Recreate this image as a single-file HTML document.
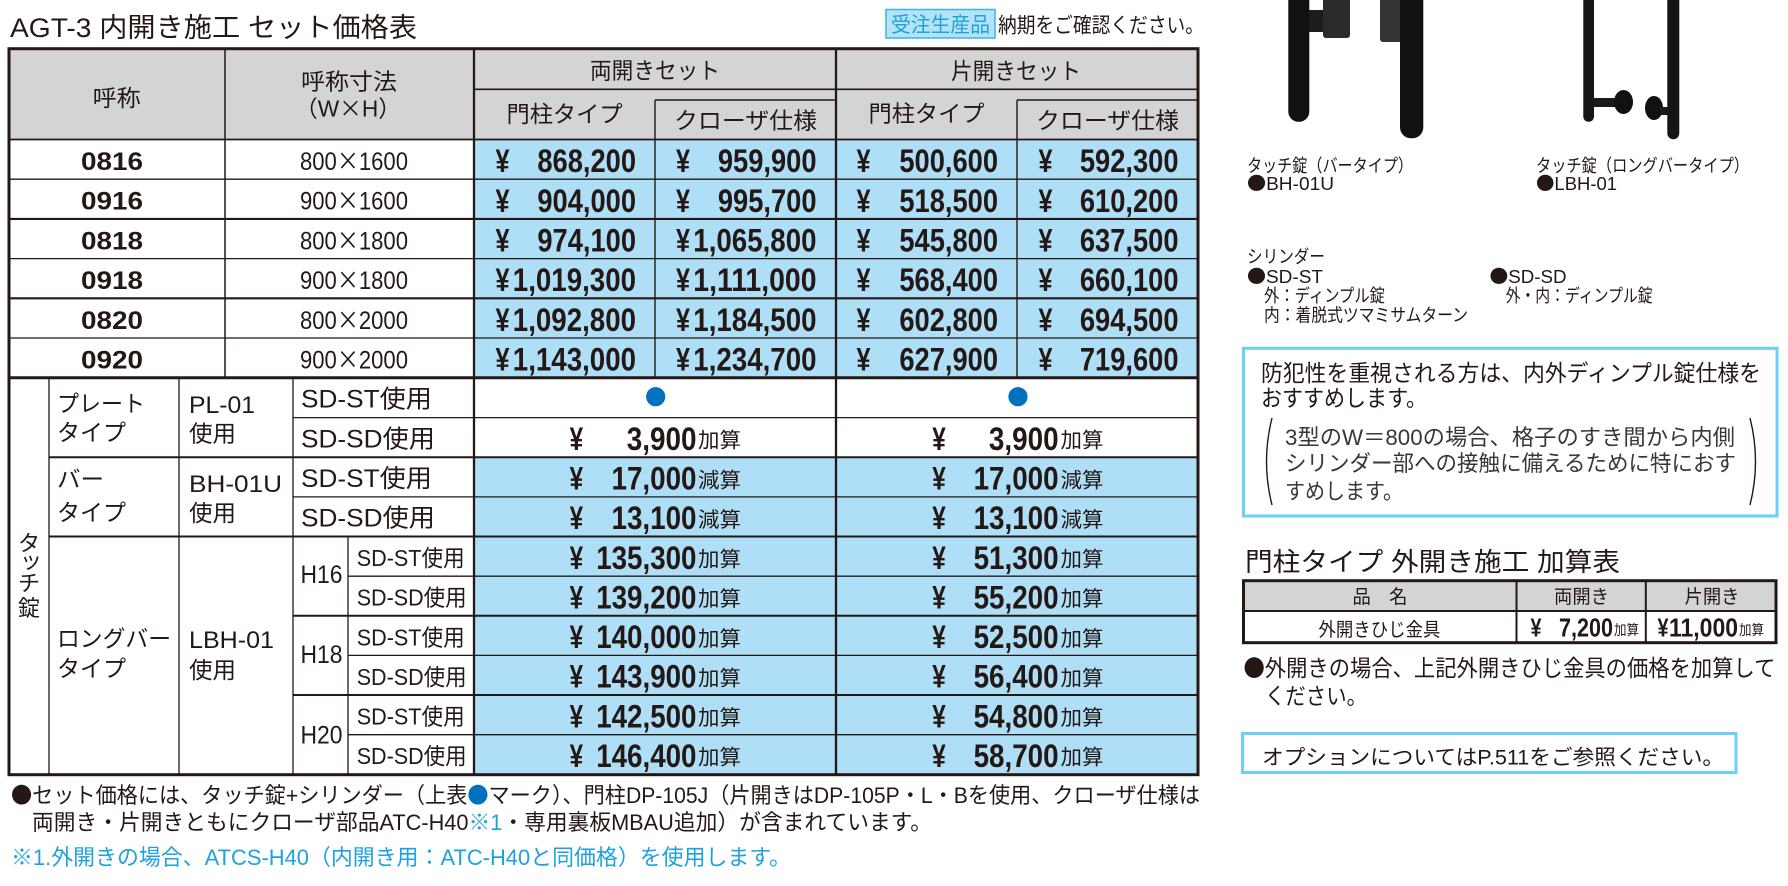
<!DOCTYPE html>
<html><head><meta charset="utf-8">
<style>
html,body{margin:0;padding:0;background:#fff;}
svg{display:block;}
text{font-family:"Liberation Sans","Noto Sans CJK JP",sans-serif;fill:#231815;}
.k{font-family:"Noto Sans CJK JP",sans-serif;}
.b{font-weight:bold;}
.c{fill:#1ea2dd;}
.bl{fill:#0071bc;}
.g{fill:#3a3634;}
line{stroke:#231815;}
</style></head><body>
<svg width="1788" height="886" viewBox="0 0 1788 886" xmlns="http://www.w3.org/2000/svg">
<rect x="0" y="0" width="1788" height="886" fill="#fff"/>

<!-- Title -->
<text x="10" y="37" font-size="27" textLength="407" lengthAdjust="spacingAndGlyphs">AGT-3 内開き施工 セット価格表</text>
<rect x="886" y="9.5" width="109" height="28.5" fill="#b4e3f8" stroke="#3cb4e6" stroke-width="1.5"/>
<text class="c" x="891" y="32" font-size="21" textLength="99" lengthAdjust="spacingAndGlyphs">受注生産品</text>
<text x="998" y="32.5" font-size="21" textLength="206" lengthAdjust="spacingAndGlyphs">納期をご確認ください。</text>

<!-- fills -->
<rect x="9" y="48.7" width="1189" height="90.8" fill="#d4d4d5"/>
<rect x="474" y="139.5" width="724" height="238.2" fill="#aedff7"/>
<rect x="474" y="457.3" width="724" height="317" fill="#aedff7"/>

<!-- header lines -->
<line x1="474" y1="89.3" x2="1198" y2="89.3" stroke-width="1.7"/>
<line x1="655" y1="100" x2="836" y2="100" stroke-width="1.5"/>
<line x1="1017" y1="100" x2="1198" y2="100" stroke-width="1.5"/>
<line x1="655" y1="100" x2="655" y2="377.7" stroke-width="1.4"/>
<line x1="1017" y1="100" x2="1017" y2="377.7" stroke-width="1.4"/>
<line x1="225" y1="48.7" x2="225" y2="377.7" stroke-width="1.5"/>
<line x1="474" y1="48.7" x2="474" y2="774.7" stroke-width="2.3"/>
<line x1="836" y1="48.7" x2="836" y2="774.7" stroke-width="2.3"/>
<line x1="9" y1="139.5" x2="1198" y2="139.5" stroke-width="1.8"/>

<!-- upper row lines -->
<line x1="9" y1="179.2" x2="1198" y2="179.2" stroke-width="1.3"/>
<line x1="9" y1="218.9" x2="1198" y2="218.9" stroke-width="2.1"/>
<line x1="9" y1="258.6" x2="1198" y2="258.6" stroke-width="1.3"/>
<line x1="9" y1="298.3" x2="1198" y2="298.3" stroke-width="2.1"/>
<line x1="9" y1="338" x2="1198" y2="338" stroke-width="1.3"/>
<line x1="9" y1="377.7" x2="1198" y2="377.7" stroke-width="3"/>

<!-- lower vertical lines -->
<line x1="49" y1="377.7" x2="49" y2="774.7" stroke-width="1.3"/>
<line x1="179" y1="377.7" x2="179" y2="774.7" stroke-width="1.3"/>
<line x1="293" y1="377.7" x2="293" y2="774.7" stroke-width="1.3"/>
<line x1="348" y1="536.5" x2="348" y2="774.7" stroke-width="1.3"/>
<!-- lower horizontal lines -->
<line x1="293" y1="417.6" x2="1198" y2="417.6" stroke-width="1.3"/>
<line x1="49" y1="457.3" x2="1198" y2="457.3" stroke-width="2"/>
<line x1="293" y1="496.9" x2="1198" y2="496.9" stroke-width="1.3"/>
<line x1="49" y1="536.5" x2="1198" y2="536.5" stroke-width="2"/>
<line x1="348" y1="576.2" x2="1198" y2="576.2" stroke-width="1.3"/>
<line x1="293" y1="615.8" x2="1198" y2="615.8" stroke-width="2"/>
<line x1="348" y1="655.4" x2="1198" y2="655.4" stroke-width="1.3"/>
<line x1="293" y1="695" x2="1198" y2="695" stroke-width="2"/>
<line x1="348" y1="734.7" x2="1198" y2="734.7" stroke-width="1.3"/>

<!-- outer border -->
<rect x="9" y="48.7" width="1189" height="726" fill="none" stroke="#231815" stroke-width="3"/>

<!-- header texts -->
<text x="92.7" y="106" font-size="23" textLength="48" lengthAdjust="spacingAndGlyphs">呼称</text>
<text x="301" y="89.5" font-size="23" textLength="96" lengthAdjust="spacingAndGlyphs">呼称寸法</text>
<text x="295" y="116.5" font-size="23" textLength="106" lengthAdjust="spacingAndGlyphs">（W<tspan class="k">×</tspan>H）</text>
<text x="590" y="78.5" font-size="23" textLength="130" lengthAdjust="spacingAndGlyphs">両開きセット</text>
<text x="951" y="79" font-size="23" textLength="130" lengthAdjust="spacingAndGlyphs">片開きセット</text>
<text x="506.5" y="122" font-size="23" textLength="116" lengthAdjust="spacingAndGlyphs">門柱タイプ</text>
<text x="674" y="128.5" font-size="23" textLength="143" lengthAdjust="spacingAndGlyphs">クローザ仕様</text>
<text x="868.5" y="121.5" font-size="23" textLength="116" lengthAdjust="spacingAndGlyphs">門柱タイプ</text>
<text x="1036" y="128.5" font-size="23" textLength="143" lengthAdjust="spacingAndGlyphs">クローザ仕様</text>

<!-- upper data rows -->
<g font-size="25">
<text class="b" x="81" y="170" textLength="62" lengthAdjust="spacingAndGlyphs">0816</text>
<text class="b" x="81" y="209.7" textLength="62" lengthAdjust="spacingAndGlyphs">0916</text>
<text class="b" x="81" y="249.4" textLength="62" lengthAdjust="spacingAndGlyphs">0818</text>
<text class="b" x="81" y="289.1" textLength="62" lengthAdjust="spacingAndGlyphs">0918</text>
<text class="b" x="81" y="328.8" textLength="62" lengthAdjust="spacingAndGlyphs">0820</text>
<text class="b" x="81" y="368.5" textLength="62" lengthAdjust="spacingAndGlyphs">0920</text>
<text x="300" y="170" textLength="108" lengthAdjust="spacingAndGlyphs">800<tspan class="k">×</tspan>1600</text>
<text x="300" y="209.7" textLength="108" lengthAdjust="spacingAndGlyphs">900<tspan class="k">×</tspan>1600</text>
<text x="300" y="249.4" textLength="108" lengthAdjust="spacingAndGlyphs">800<tspan class="k">×</tspan>1800</text>
<text x="300" y="289.1" textLength="108" lengthAdjust="spacingAndGlyphs">900<tspan class="k">×</tspan>1800</text>
<text x="300" y="328.8" textLength="108" lengthAdjust="spacingAndGlyphs">800<tspan class="k">×</tspan>2000</text>
<text x="300" y="368.5" textLength="108" lengthAdjust="spacingAndGlyphs">900<tspan class="k">×</tspan>2000</text>
</g>

<g class="b" font-size="32">
<!-- yen signs upper -->
<text class="b" x="495.5" y="172.1" textLength="14" lengthAdjust="spacingAndGlyphs">¥</text>
<text class="b" x="676" y="172.1" textLength="14" lengthAdjust="spacingAndGlyphs">¥</text>
<text class="b" x="856.5" y="172.1" textLength="14" lengthAdjust="spacingAndGlyphs">¥</text>
<text class="b" x="1038.5" y="172.1" textLength="14" lengthAdjust="spacingAndGlyphs">¥</text>
<text class="b" x="495.5" y="211.8" textLength="14" lengthAdjust="spacingAndGlyphs">¥</text>
<text class="b" x="676" y="211.8" textLength="14" lengthAdjust="spacingAndGlyphs">¥</text>
<text class="b" x="856.5" y="211.8" textLength="14" lengthAdjust="spacingAndGlyphs">¥</text>
<text class="b" x="1038.5" y="211.8" textLength="14" lengthAdjust="spacingAndGlyphs">¥</text>
<text class="b" x="495.5" y="251.5" textLength="14" lengthAdjust="spacingAndGlyphs">¥</text>
<text class="b" x="676" y="251.5" textLength="14" lengthAdjust="spacingAndGlyphs">¥</text>
<text class="b" x="856.5" y="251.5" textLength="14" lengthAdjust="spacingAndGlyphs">¥</text>
<text class="b" x="1038.5" y="251.5" textLength="14" lengthAdjust="spacingAndGlyphs">¥</text>
<text class="b" x="495.5" y="291.2" textLength="14" lengthAdjust="spacingAndGlyphs">¥</text>
<text class="b" x="676" y="291.2" textLength="14" lengthAdjust="spacingAndGlyphs">¥</text>
<text class="b" x="856.5" y="291.2" textLength="14" lengthAdjust="spacingAndGlyphs">¥</text>
<text class="b" x="1038.5" y="291.2" textLength="14" lengthAdjust="spacingAndGlyphs">¥</text>
<text class="b" x="495.5" y="330.9" textLength="14" lengthAdjust="spacingAndGlyphs">¥</text>
<text class="b" x="676" y="330.9" textLength="14" lengthAdjust="spacingAndGlyphs">¥</text>
<text class="b" x="856.5" y="330.9" textLength="14" lengthAdjust="spacingAndGlyphs">¥</text>
<text class="b" x="1038.5" y="330.9" textLength="14" lengthAdjust="spacingAndGlyphs">¥</text>
<text class="b" x="495.5" y="370.6" textLength="14" lengthAdjust="spacingAndGlyphs">¥</text>
<text class="b" x="676" y="370.6" textLength="14" lengthAdjust="spacingAndGlyphs">¥</text>
<text class="b" x="856.5" y="370.6" textLength="14" lengthAdjust="spacingAndGlyphs">¥</text>
<text class="b" x="1038.5" y="370.6" textLength="14" lengthAdjust="spacingAndGlyphs">¥</text>

<!-- numbers upper -->
<text class="b" x="537.4" y="172.1" textLength="98.6" lengthAdjust="spacingAndGlyphs">868,200</text>
<text class="b" x="717.9" y="172.1" textLength="98.6" lengthAdjust="spacingAndGlyphs">959,900</text>
<text class="b" x="899.4" y="172.1" textLength="98.6" lengthAdjust="spacingAndGlyphs">500,600</text>
<text class="b" x="1079.9" y="172.1" textLength="98.6" lengthAdjust="spacingAndGlyphs">592,300</text>

<text class="b" x="537.4" y="211.8" textLength="98.6" lengthAdjust="spacingAndGlyphs">904,000</text>
<text class="b" x="717.9" y="211.8" textLength="98.6" lengthAdjust="spacingAndGlyphs">995,700</text>
<text class="b" x="899.4" y="211.8" textLength="98.6" lengthAdjust="spacingAndGlyphs">518,500</text>
<text class="b" x="1079.9" y="211.8" textLength="98.6" lengthAdjust="spacingAndGlyphs">610,200</text>

<text class="b" x="537.4" y="251.5" textLength="98.6" lengthAdjust="spacingAndGlyphs">974,100</text>
<text class="b" x="693.3" y="251.5" textLength="123.2" lengthAdjust="spacingAndGlyphs">1,065,800</text>
<text class="b" x="899.4" y="251.5" textLength="98.6" lengthAdjust="spacingAndGlyphs">545,800</text>
<text class="b" x="1079.9" y="251.5" textLength="98.6" lengthAdjust="spacingAndGlyphs">637,500</text>

<text class="b" x="512.8" y="291.2" textLength="123.2" lengthAdjust="spacingAndGlyphs">1,019,300</text>
<text class="b" x="693.3" y="291.2" textLength="123.2" lengthAdjust="spacingAndGlyphs">1,111,000</text>
<text class="b" x="899.4" y="291.2" textLength="98.6" lengthAdjust="spacingAndGlyphs">568,400</text>
<text class="b" x="1079.9" y="291.2" textLength="98.6" lengthAdjust="spacingAndGlyphs">660,100</text>

<text class="b" x="512.8" y="330.9" textLength="123.2" lengthAdjust="spacingAndGlyphs">1,092,800</text>
<text class="b" x="693.3" y="330.9" textLength="123.2" lengthAdjust="spacingAndGlyphs">1,184,500</text>
<text class="b" x="899.4" y="330.9" textLength="98.6" lengthAdjust="spacingAndGlyphs">602,800</text>
<text class="b" x="1079.9" y="330.9" textLength="98.6" lengthAdjust="spacingAndGlyphs">694,500</text>

<text class="b" x="512.8" y="370.6" textLength="123.2" lengthAdjust="spacingAndGlyphs">1,143,000</text>
<text class="b" x="693.3" y="370.6" textLength="123.2" lengthAdjust="spacingAndGlyphs">1,234,700</text>
<text class="b" x="899.4" y="370.6" textLength="98.6" lengthAdjust="spacingAndGlyphs">627,900</text>
<text class="b" x="1079.9" y="370.6" textLength="98.6" lengthAdjust="spacingAndGlyphs">719,600</text>
</g>

<!-- lower left labels -->
<g font-size="22">
<text x="18" y="551">タ</text>
<text x="20" y="568.5">ッ</text>
<text x="18" y="591">チ</text>
<text x="18" y="616">錠</text>
</g>
<g font-size="23">
<text x="57" y="411.5" textLength="88" lengthAdjust="spacingAndGlyphs">プレート</text>
<text x="57" y="440.5" textLength="69" lengthAdjust="spacingAndGlyphs">タイプ</text>
<text x="189" y="413" font-size="24" textLength="66" lengthAdjust="spacingAndGlyphs">PL-01</text>
<text x="189" y="441.5" textLength="47" lengthAdjust="spacingAndGlyphs">使用</text>

<text x="57" y="487" textLength="47" lengthAdjust="spacingAndGlyphs">バー</text>
<text x="57" y="520.5" textLength="69" lengthAdjust="spacingAndGlyphs">タイプ</text>
<text x="189" y="492" font-size="24" textLength="93" lengthAdjust="spacingAndGlyphs">BH-01U</text>
<text x="189" y="521" textLength="47" lengthAdjust="spacingAndGlyphs">使用</text>

<text x="57" y="646.5" textLength="114" lengthAdjust="spacingAndGlyphs">ロングバー</text>
<text x="57" y="676.5" textLength="69" lengthAdjust="spacingAndGlyphs">タイプ</text>
<text x="189" y="648" font-size="24" textLength="85" lengthAdjust="spacingAndGlyphs">LBH-01</text>
<text x="189" y="678" textLength="47" lengthAdjust="spacingAndGlyphs">使用</text>
</g>
<g font-size="25">
<text x="301" y="407.5" textLength="131" lengthAdjust="spacingAndGlyphs">SD-ST使用</text>
<text x="301" y="447.3" textLength="134" lengthAdjust="spacingAndGlyphs">SD-SD使用</text>
<text x="301" y="487" textLength="131" lengthAdjust="spacingAndGlyphs">SD-ST使用</text>
<text x="301" y="526.5" textLength="134" lengthAdjust="spacingAndGlyphs">SD-SD使用</text>
<text x="300.5" y="583" textLength="42" lengthAdjust="spacingAndGlyphs">H16</text>
<text x="300.5" y="663" textLength="42" lengthAdjust="spacingAndGlyphs">H18</text>
<text x="300.5" y="743.5" textLength="42" lengthAdjust="spacingAndGlyphs">H20</text>
</g>
<g font-size="23">
<text x="356.7" y="566" textLength="108" lengthAdjust="spacingAndGlyphs">SD-ST使用</text>
<text x="356.7" y="605.7" textLength="110" lengthAdjust="spacingAndGlyphs">SD-SD使用</text>
<text x="356.7" y="645.3" textLength="108" lengthAdjust="spacingAndGlyphs">SD-ST使用</text>
<text x="356.7" y="685" textLength="110" lengthAdjust="spacingAndGlyphs">SD-SD使用</text>
<text x="356.7" y="724.5" textLength="108" lengthAdjust="spacingAndGlyphs">SD-ST使用</text>
<text x="356.7" y="764.2" textLength="110" lengthAdjust="spacingAndGlyphs">SD-SD使用</text>
</g>

<!-- dots -->
<circle cx="655.7" cy="396.7" r="9.6" fill="#0071bc"/>
<circle cx="1018" cy="396.7" r="9.6" fill="#0071bc"/>

<!-- lower prices -->
<g font-size="32">
<text class="b" x="569.6" y="449.9" textLength="13.5" lengthAdjust="spacingAndGlyphs">¥</text>
<text class="b" x="932.3" y="449.9" textLength="13.5" lengthAdjust="spacingAndGlyphs">¥</text>
<text class="b" x="569.6" y="489.6" textLength="13.5" lengthAdjust="spacingAndGlyphs">¥</text>
<text class="b" x="932.3" y="489.6" textLength="13.5" lengthAdjust="spacingAndGlyphs">¥</text>
<text class="b" x="569.6" y="529.2" textLength="13.5" lengthAdjust="spacingAndGlyphs">¥</text>
<text class="b" x="932.3" y="529.2" textLength="13.5" lengthAdjust="spacingAndGlyphs">¥</text>
<text class="b" x="569.6" y="568.8" textLength="13.5" lengthAdjust="spacingAndGlyphs">¥</text>
<text class="b" x="932.3" y="568.8" textLength="13.5" lengthAdjust="spacingAndGlyphs">¥</text>
<text class="b" x="569.6" y="608.5" textLength="13.5" lengthAdjust="spacingAndGlyphs">¥</text>
<text class="b" x="932.3" y="608.5" textLength="13.5" lengthAdjust="spacingAndGlyphs">¥</text>
<text class="b" x="569.6" y="648.1" textLength="13.5" lengthAdjust="spacingAndGlyphs">¥</text>
<text class="b" x="932.3" y="648.1" textLength="13.5" lengthAdjust="spacingAndGlyphs">¥</text>
<text class="b" x="569.6" y="687.7" textLength="13.5" lengthAdjust="spacingAndGlyphs">¥</text>
<text class="b" x="932.3" y="687.7" textLength="13.5" lengthAdjust="spacingAndGlyphs">¥</text>
<text class="b" x="569.6" y="727.3" textLength="13.5" lengthAdjust="spacingAndGlyphs">¥</text>
<text class="b" x="932.3" y="727.3" textLength="13.5" lengthAdjust="spacingAndGlyphs">¥</text>
<text class="b" x="569.6" y="767" textLength="13.5" lengthAdjust="spacingAndGlyphs">¥</text>
<text class="b" x="932.3" y="767" textLength="13.5" lengthAdjust="spacingAndGlyphs">¥</text>

<text class="b" x="626.8" y="449.9" textLength="69.7" lengthAdjust="spacingAndGlyphs">3,900</text>
<text class="b" x="988.9" y="449.9" textLength="69.7" lengthAdjust="spacingAndGlyphs">3,900</text>
<text class="b" x="611.5" y="489.6" textLength="85" lengthAdjust="spacingAndGlyphs">17,000</text>
<text class="b" x="973.6" y="489.6" textLength="85" lengthAdjust="spacingAndGlyphs">17,000</text>
<text class="b" x="611.5" y="529.2" textLength="85" lengthAdjust="spacingAndGlyphs">13,100</text>
<text class="b" x="973.6" y="529.2" textLength="85" lengthAdjust="spacingAndGlyphs">13,100</text>
<text class="b" x="596.2" y="568.8" textLength="100.3" lengthAdjust="spacingAndGlyphs">135,300</text>
<text class="b" x="973.6" y="568.8" textLength="85" lengthAdjust="spacingAndGlyphs">51,300</text>
<text class="b" x="596.2" y="608.5" textLength="100.3" lengthAdjust="spacingAndGlyphs">139,200</text>
<text class="b" x="973.6" y="608.5" textLength="85" lengthAdjust="spacingAndGlyphs">55,200</text>
<text class="b" x="596.2" y="648.1" textLength="100.3" lengthAdjust="spacingAndGlyphs">140,000</text>
<text class="b" x="973.6" y="648.1" textLength="85" lengthAdjust="spacingAndGlyphs">52,500</text>
<text class="b" x="596.2" y="687.7" textLength="100.3" lengthAdjust="spacingAndGlyphs">143,900</text>
<text class="b" x="973.6" y="687.7" textLength="85" lengthAdjust="spacingAndGlyphs">56,400</text>
<text class="b" x="596.2" y="727.3" textLength="100.3" lengthAdjust="spacingAndGlyphs">142,500</text>
<text class="b" x="973.6" y="727.3" textLength="85" lengthAdjust="spacingAndGlyphs">54,800</text>
<text class="b" x="596.2" y="767" textLength="100.3" lengthAdjust="spacingAndGlyphs">146,400</text>
<text class="b" x="973.6" y="767" textLength="85" lengthAdjust="spacingAndGlyphs">58,700</text>
</g>
<g font-size="21">
<text x="698" y="447.6" textLength="43" lengthAdjust="spacingAndGlyphs">加算</text>
<text x="1060.5" y="447.6" textLength="43" lengthAdjust="spacingAndGlyphs">加算</text>
<text x="698" y="487.3" textLength="43" lengthAdjust="spacingAndGlyphs">減算</text>
<text x="1060.5" y="487.3" textLength="43" lengthAdjust="spacingAndGlyphs">減算</text>
<text x="698" y="526.9" textLength="43" lengthAdjust="spacingAndGlyphs">減算</text>
<text x="1060.5" y="526.9" textLength="43" lengthAdjust="spacingAndGlyphs">減算</text>
<text x="698" y="566.5" textLength="43" lengthAdjust="spacingAndGlyphs">加算</text>
<text x="1060.5" y="566.5" textLength="43" lengthAdjust="spacingAndGlyphs">加算</text>
<text x="698" y="606.2" textLength="43" lengthAdjust="spacingAndGlyphs">加算</text>
<text x="1060.5" y="606.2" textLength="43" lengthAdjust="spacingAndGlyphs">加算</text>
<text x="698" y="645.8" textLength="43" lengthAdjust="spacingAndGlyphs">加算</text>
<text x="1060.5" y="645.8" textLength="43" lengthAdjust="spacingAndGlyphs">加算</text>
<text x="698" y="685.4" textLength="43" lengthAdjust="spacingAndGlyphs">加算</text>
<text x="1060.5" y="685.4" textLength="43" lengthAdjust="spacingAndGlyphs">加算</text>
<text x="698" y="725" textLength="43" lengthAdjust="spacingAndGlyphs">加算</text>
<text x="1060.5" y="725" textLength="43" lengthAdjust="spacingAndGlyphs">加算</text>
<text x="698" y="764.7" textLength="43" lengthAdjust="spacingAndGlyphs">加算</text>
<text x="1060.5" y="764.7" textLength="43" lengthAdjust="spacingAndGlyphs">加算</text>
</g>

<!-- bottom notes -->
<g font-size="22">
<text x="11" y="803" textLength="1189" lengthAdjust="spacingAndGlyphs"><tspan class="k">●</tspan>セット価格には、タッチ錠+シリンダー（上表<tspan class="k bl">●</tspan>マーク）、門柱DP-105J（片開きはDP-105P・L・Bを使用、クローザ仕様は</text>
<text x="32" y="830" textLength="900" lengthAdjust="spacingAndGlyphs">両開き・片開きともにクローザ部品ATC-H40<tspan class="c">※1</tspan>・専用裏板MBAU追加）が含まれています。</text>
<text class="c" x="11" y="865" textLength="780" lengthAdjust="spacingAndGlyphs">※1.外開きの場合、ATCS-H40（内開き用：ATC-H40と同価格）を使用します。</text>
</g>

<!-- product images (handles) -->
<rect x="1288.3" y="-12" width="21" height="133.7" rx="10" fill="#111"/>
<rect x="1309" y="10" width="34" height="22" fill="#1c1c1c"/>
<rect x="1323" y="-5" width="27" height="43" rx="3" fill="#2b2b2b"/>
<rect x="1380" y="-5" width="22" height="47" rx="3" fill="#333"/>
<rect x="1400" y="-12" width="23.3" height="150.3" rx="11" fill="#111"/>
<rect x="1583.3" y="-10" width="10.7" height="131.7" rx="5" fill="#151515"/>
<rect x="1594" y="98" width="24" height="9" fill="#1a1a1a"/>
<ellipse cx="1623.5" cy="102" rx="9.5" ry="12" fill="#111"/>
<ellipse cx="1654" cy="108" rx="9" ry="12" fill="#111"/>
<rect x="1660" y="107" width="8" height="8" fill="#1a1a1a"/>
<rect x="1667.3" y="-10" width="12" height="149.3" rx="6" fill="#151515"/>

<!-- right captions -->
<g font-size="18">
<text x="1247" y="172" textLength="166" lengthAdjust="spacingAndGlyphs">タッチ錠（バータイプ）</text>
<text x="1247" y="190" textLength="87" lengthAdjust="spacingAndGlyphs"><tspan class="k">●</tspan>BH-01U</text>
<text x="1536" y="172" textLength="213" lengthAdjust="spacingAndGlyphs">タッチ錠（ロングバータイプ）</text>
<text x="1536" y="190" textLength="81" lengthAdjust="spacingAndGlyphs"><tspan class="k">●</tspan>LBH-01</text>
<text x="1247" y="263" textLength="78" lengthAdjust="spacingAndGlyphs">シリンダー</text>
<text x="1247" y="283" textLength="76" lengthAdjust="spacingAndGlyphs"><tspan class="k">●</tspan>SD-ST</text>
<text x="1264" y="302" textLength="121" lengthAdjust="spacingAndGlyphs">外：ディンプル錠</text>
<text x="1264" y="321.5" textLength="204" lengthAdjust="spacingAndGlyphs">内：着脱式ツマミサムターン</text>
<text x="1489.5" y="283" textLength="77" lengthAdjust="spacingAndGlyphs"><tspan class="k">●</tspan>SD-SD</text>
<text x="1505.6" y="302" textLength="147" lengthAdjust="spacingAndGlyphs">外・内：ディンプル錠</text>
</g>

<!-- blue box 1 -->
<rect x="1243.5" y="348.3" width="533.5" height="167.7" fill="#fff" stroke="#6dcff6" stroke-width="3"/>
<text x="1261" y="381" font-size="23" textLength="500" lengthAdjust="spacingAndGlyphs">防犯性を重視される方は、内外ディンプル錠仕様を</text>
<text x="1261" y="406" font-size="23" textLength="166" lengthAdjust="spacingAndGlyphs">おすすめします。</text>
<path d="M1272 418 Q1261 461.5 1272 505" fill="none" stroke="#231815" stroke-width="1.4"/>
<path d="M1750 418 Q1761 461.5 1750 505" fill="none" stroke="#231815" stroke-width="1.4"/>
<g font-size="22">
<text class="g" x="1285" y="445" textLength="450" lengthAdjust="spacingAndGlyphs">3型のW＝800の場合、格子のすき間から内側</text>
<text class="g" x="1285" y="471" textLength="451" lengthAdjust="spacingAndGlyphs">シリンダー部への接触に備えるために特におす</text>
<text class="g" x="1285" y="499" textLength="118" lengthAdjust="spacingAndGlyphs">すめします。</text>
</g>

<!-- title 2 -->
<text x="1245" y="571" font-size="26" textLength="375" lengthAdjust="spacingAndGlyphs">門柱タイプ 外開き施工 加算表</text>

<!-- table 2 -->
<rect x="1243.5" y="580.7" width="532.5" height="30.3" fill="#d4d4d5"/>
<line x1="1243.5" y1="611" x2="1776" y2="611" stroke-width="2"/>
<line x1="1516.5" y1="580.7" x2="1516.5" y2="642.7" stroke-width="2"/>
<line x1="1645.8" y1="580.7" x2="1645.8" y2="642.7" stroke-width="2"/>
<rect x="1243.5" y="580.7" width="532.5" height="62" fill="none" stroke="#231815" stroke-width="3"/>
<g font-size="19">
<text x="1352.5" y="603" textLength="55" lengthAdjust="spacingAndGlyphs">品　名</text>
<text x="1554" y="603" textLength="55" lengthAdjust="spacingAndGlyphs">両開き</text>
<text x="1684.5" y="603" textLength="55" lengthAdjust="spacingAndGlyphs">片開き</text>
<text x="1318.5" y="636" textLength="122" lengthAdjust="spacingAndGlyphs">外開きひじ金具</text>
</g>
<g font-size="26">
<text class="b" x="1530.5" y="636.5" textLength="11" lengthAdjust="spacingAndGlyphs">¥</text>
<text class="b" x="1559" y="636.5" textLength="54" lengthAdjust="spacingAndGlyphs">7,200</text>
<text class="b" x="1657.5" y="636.5" textLength="11" lengthAdjust="spacingAndGlyphs">¥</text>
<text class="b" x="1669" y="636.5" textLength="69" lengthAdjust="spacingAndGlyphs">11,000</text>
</g>
<g font-size="14">
<text x="1614" y="635" textLength="25" lengthAdjust="spacingAndGlyphs">加算</text>
<text x="1739" y="635" textLength="25" lengthAdjust="spacingAndGlyphs">加算</text>
</g>

<text x="1243.5" y="676" font-size="23" textLength="532" lengthAdjust="spacingAndGlyphs"><tspan class="k">●</tspan>外開きの場合、上記外開きひじ金具の価格を加算して</text>
<text x="1265" y="704" font-size="23" textLength="102" lengthAdjust="spacingAndGlyphs">ください。</text>

<!-- option box -->
<rect x="1242.5" y="733.5" width="493.5" height="39" fill="#fff" stroke="#6dcff6" stroke-width="3"/>
<text x="1262" y="764.5" font-size="21" textLength="462" lengthAdjust="spacingAndGlyphs">オプションについてはP.511をご参照ください。</text>
</svg>
</body></html>
